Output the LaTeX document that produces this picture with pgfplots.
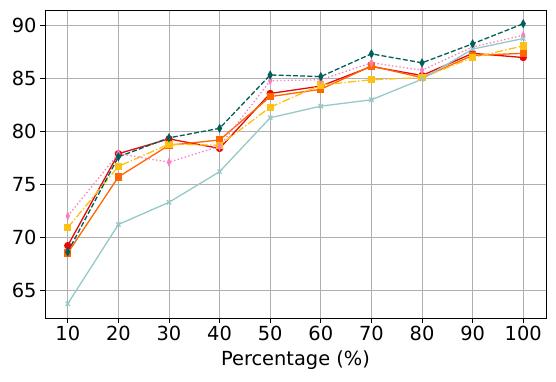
\documentclass[border=0pt]{standalone}
\usepackage{fontspec}
\setmainfont{DejaVu Sans}
\usepackage{pgfplots}
\pgfplotsset{compat=1.18}

\definecolor{cred}{RGB}{228,10,10}
\definecolor{corange}{RGB}{255,102,0}
\definecolor{cyellow}{RGB}{255,192,20}
\definecolor{cpink}{RGB}{247,129,191}
\definecolor{cteal}{RGB}{0,95,90}
\definecolor{clteal}{RGB}{150,200,200}

\begin{document}
\begin{tikzpicture}
\begin{axis}[
    scale only axis,
    width=501bp,
    height=308bp,
    xmin=5.5, xmax=104.5,
    ymin=62.35, ymax=91.5,
    xtick={10,20,...,100},
    ytick={65,70,...,90},
    grid=major,
    major grid style={line width=0.9bp, draw=black!31},
    axis line style={line width=0.9bp},
    tick style={line width=0.9bp, black},
    tick align=outside,
    major tick length=5bp,
    xtick pos=bottom, ytick pos=left,
    /pgf/number format/assume math mode=true,
    ticklabel style={font=\fontsize{19.4bp}{23bp}\selectfont},
    label style={font=\fontsize{19.4bp}{23bp}\selectfont},
    xlabel={Percentage (\%)},
    xlabel style={yshift=-3bp},
    every axis plot/.append style={line width=1.3bp},
]

% red, circles
\addplot[cred, mark=*, mark size=3bp] coordinates {
    (10,69.2) (20,77.9) (30,79.3) (40,78.4) (50,83.6)
    (60,84.3) (70,86.15) (80,85.3) (90,87.4) (100,87.0)
};

% orange, squares
\addplot[corange, mark=square*, mark size=3bp] coordinates {
    (10,68.5) (20,75.7) (30,78.7) (40,79.2) (50,83.3)
    (60,84.0) (70,86.2) (80,85.1) (90,87.2) (100,87.4)
};

% yellow, dash-dot, squares
\addplot[cyellow, dash pattern=on 8bp off 2.2bp on 1.4bp off 2.2bp, mark=square*, mark size=3bp, mark options={solid}] coordinates {
    (10,70.9) (20,76.7) (30,78.8) (40,78.7) (50,82.3)
    (60,84.4) (70,84.9) (80,85.1) (90,87.0) (100,88.1)
};

% pink, dotted, thin diamonds
\addplot[cpink, dash pattern=on 1.4bp off 2.3bp, mark=diamond*, mark size=3.2bp, mark options={solid, xscale=0.6}] coordinates {
    (10,72.0) (20,77.9) (30,77.1) (40,78.6) (50,84.8)
    (60,84.9) (70,86.5) (80,85.8) (90,88.0) (100,89.1)
};

% dark teal, dashed, diamonds
\addplot[cteal, dash pattern=on 5bp off 2.2bp, mark=diamond*, mark size=3.4bp, mark options={solid, xscale=0.75}] coordinates {
    (10,68.6) (20,77.6) (30,79.4) (40,80.3) (50,85.35)
    (60,85.2) (70,87.35) (80,86.5) (90,88.3) (100,90.2)
};

% light teal, crosses
\addplot[clteal, mark=x, mark size=3bp] coordinates {
    (10,63.7) (20,71.2) (30,73.3) (40,76.2) (50,81.3)
    (60,82.4) (70,83.0) (80,84.95) (90,87.8) (100,88.8)
};

\end{axis}
\path ([shift={(-45bp,-63bp)}]current axis.south west) rectangle ([shift={(10bp,10bp)}]current axis.north east);
\end{tikzpicture}
\end{document}
